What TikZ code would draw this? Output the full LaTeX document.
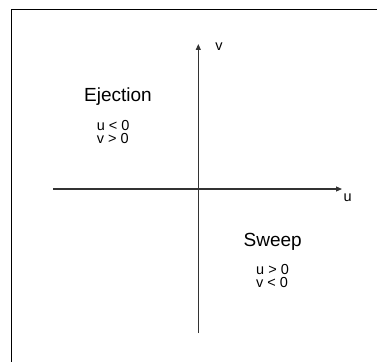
\documentclass[tikz,border=0pt]{standalone}
\usepackage{fontspec}
\setmainfont{Liberation Sans}
\usetikzlibrary{arrows.meta,positioning}
\tikzset{
  axisline/.style={-{Triangle[length=6pt,width=5pt]}, line width=1.1pt, draw=black!80},
  axislabel/.style={inner sep=0pt, font=\fontsize{14.5}{14.5}\selectfont},
  regionname/.style={inner sep=0pt, anchor=base, font=\fontsize{19}{19}\selectfont},
  regioncond/.style={inner sep=0pt, anchor=north west, align=left, font=\fontsize{14.5}{13.3}\selectfont}
}
\begin{document}
\begin{tikzpicture}[x=1pt,y=-1pt]
\useasboundingbox (0,0) rectangle (377,361);
\clip (0,0) rectangle (377,361);
\fill[white] (0,0) rectangle (377,361);
\draw[line width=0.9pt] (11,9) rectangle (400,380);
\coordinate (uleft) at (53,189);
\coordinate (uright) at (342,189);
\coordinate (vbottom) at (198.3,333);
\coordinate (vtop) at (198.3,44);
\draw[axisline] (uleft) -- (uright);
\draw[axisline] (vbottom) -- (vtop);
\node[axislabel] (ulabel) at (347.7,198) {u};
\node[axislabel] (vlabel) at (219,46.5) {v};
\node[regionname] (ejection) at (118,101.7) {Ejection};
\node[regioncond] (ejectioncond) at (96.7,120) {u < 0\\v > 0};
\node[regionname] (sweep) at (272.7,246) {Sweep};
\node[regioncond] (sweepcond) at (256,264.3) {u > 0\\v < 0};
\end{tikzpicture}
\end{document}
